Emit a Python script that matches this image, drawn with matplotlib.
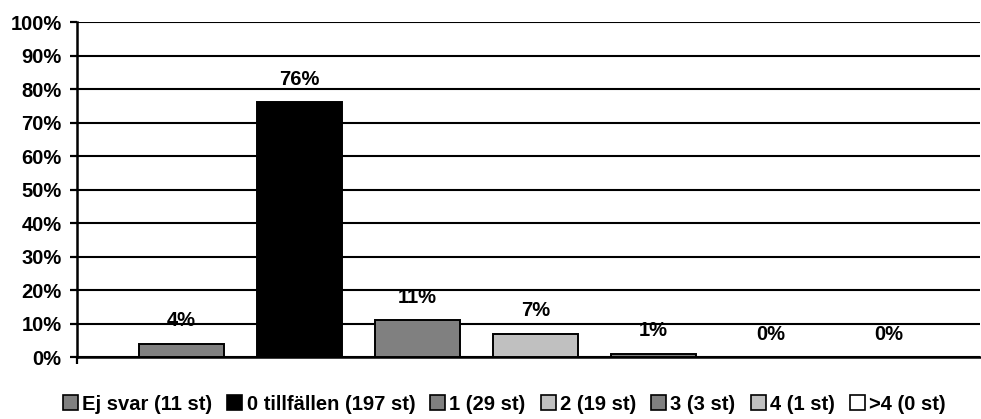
import matplotlib
matplotlib.use("Agg")
import matplotlib.pyplot as plt
from matplotlib.patches import Patch
from matplotlib.ticker import FuncFormatter

plt.rcParams["font.family"] = ["Liberation Sans", "DejaVu Sans"]
plt.rcParams["font.weight"] = "bold"

# data
labels = ["Ej svar (11 st)", "0 tillfällen (197 st)", "1 (29 st)", "2 (19 st)",
          "3 (3 st)", "4 (1 st)", ">4 (0 st)"]
values = [4, 76, 11, 7, 1, 0, 0]
colors = ["#808080", "#000000", "#808080", "#C0C0C0", "#808080", "#C0C0C0", "#FFFFFF"]
yticks = [0, 10, 20, 30, 40, 50, 60, 70, 80, 90, 100]

W, H = 981, 419
fig = plt.figure(figsize=(W / 100, H / 100), dpi=100)
ax = fig.add_axes([77 / W, (H - 357) / H, (980 - 77) / W, (357 - 22) / H])

x = list(range(len(values)))
ax.bar(x, values, width=0.72, color=colors, edgecolor="black", linewidth=1.4, zorder=3)

for xi, v in zip(x, values):
    ax.annotate(f"{v}%", (xi, v), xytext=(0, 23), textcoords="offset pixels",
                ha="center", va="center", fontsize=14.5, fontweight="bold")

ax.set_xlim(-0.886, 6.77)
ax.set_ylim(0, 100)
ax.set_yticks(yticks)
ax.yaxis.set_major_formatter(FuncFormatter(lambda v, p: f"{v:.0f}%"))
ax.yaxis.grid(True, color="black", linewidth=1.5, zorder=0)
ax.set_xticks([-0.886])
ax.set_xticklabels([""])
ax.tick_params(axis="both", direction="out", length=5, width=1.6, labelsize=14.5, pad=6)
for lbl in ax.get_yticklabels():
    lbl.set_fontweight("bold")

for side in ("top", "right"):
    ax.spines[side].set_visible(False)
for side in ("left", "bottom"):
    ax.spines[side].set_linewidth(1.8)

handles = [Patch(facecolor=c, edgecolor="black", linewidth=1.2) for c in colors]
leg = fig.legend(handles, labels, loc="center", bbox_to_anchor=(0.514, (H - 404) / H),
                 ncol=7, frameon=False, fontsize=14.5, handlelength=0.75, handleheight=0.75,
                 handletextpad=0.2, columnspacing=0.75)
for t in leg.get_texts():
    t.set_fontweight("bold")

fig.savefig("out.png", dpi=100)
